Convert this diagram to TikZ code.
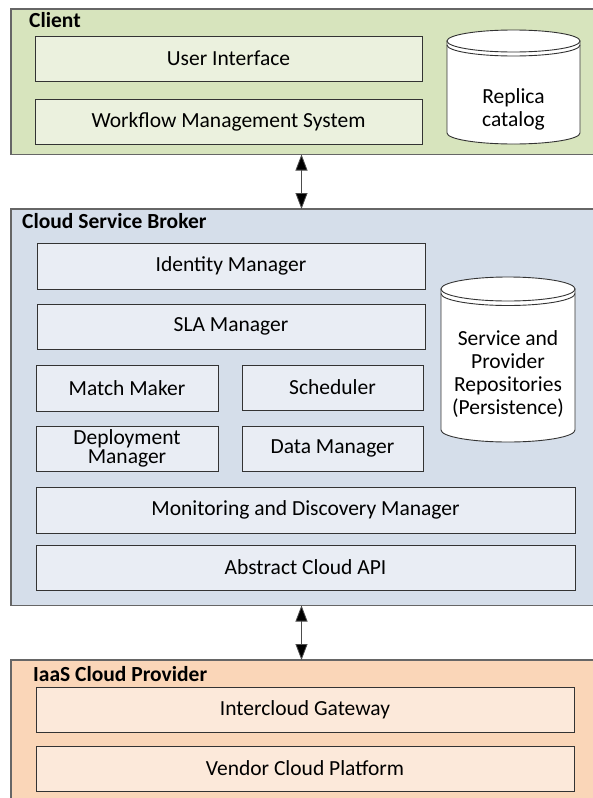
\documentclass[tikz,border=0pt]{standalone}
\usepackage{fontspec}
\setmainfont{Carlito}
\usetikzlibrary{arrows.meta}

\definecolor{clientpanel}{HTML}{D7E4BD}
\definecolor{clientbox}{HTML}{EBF1DE}
\definecolor{brokerpanel}{HTML}{D5DEEA}
\definecolor{brokerbox}{HTML}{E9EDF4}
\definecolor{iaaspanel}{HTML}{FAD6B8}
\definecolor{iaasbox}{HTML}{FCE9DA}
\definecolor{panelline}{HTML}{666666}
\definecolor{boxline}{HTML}{333333}

\begin{document}
\begin{tikzpicture}[x=1pt,y=1pt,
  panel/.style={draw=panelline, line width=1.3pt, inner sep=0pt, outer sep=0pt},
  comp/.style={draw=boxline, line width=0.9pt, inner sep=0pt, outer sep=0pt,
    align=center, font=\fontsize{21.5}{23.5}\selectfont},
  title/.style={anchor=base west, inner sep=0pt, font=\fontsize{21.5}{23.5}\selectfont\bfseries},
  store/.style={draw=boxline, line width=0.9pt, fill=white},
  storetext/.style={align=center, inner sep=0pt, font=\fontsize{21.5}{23}\selectfont},
  conn/.style={draw=black!70, line width=0.8pt,
    {Triangle[width=12pt,length=16pt,fill=black]}-{Triangle[width=12pt,length=16pt,fill=black]}}
]
\useasboundingbox (0,0) rectangle (593,-798);
\clip (0,0) rectangle (593,-798);

% ---------- Client ----------
\node[panel, fill=clientpanel, minimum width=594pt, minimum height=145.5pt] (client) at (308,-81.75) {};
\node[title] (clienttitle) at (29,-27) {Client};
\node[comp, fill=clientbox, minimum width=387pt, minimum height=45pt] (ui) at (228.5,-58.5) {User Interface};
\node[comp, fill=clientbox, minimum width=387pt, minimum height=45pt] (wms) at (228.5,-121.5) {Workflow Management System};
% replica catalog store
\path[store] (447,-41) -- (447,-133) arc[start angle=180, end angle=360, x radius=66.5pt, y radius=11pt] -- (580,-41) -- cycle;
\draw[store] (513.5,-41) ellipse [x radius=66.5pt, y radius=11pt];
\draw[boxline, line width=0.9pt] (447,-45) arc[start angle=180, end angle=360, x radius=66.5pt, y radius=11pt];
\node[storetext] (replica) at (513.5,-109) {Replica\\catalog};

% ---------- Cloud Service Broker ----------
\node[panel, fill=brokerpanel, minimum width=594pt, minimum height=396.5pt] (broker) at (308,-407.25) {};
\node[title] (brokertitle) at (22,-228) {Cloud Service Broker};
\node[comp, fill=brokerbox, minimum width=388pt, minimum height=46pt] (identity) at (231,-266) {Identity Manager};
\node[comp, fill=brokerbox, minimum width=388pt, minimum height=45pt] (sla) at (231,-326.5) {SLA Manager};
\node[comp, fill=brokerbox, minimum width=182pt, minimum height=46pt] (match) at (127,-388) {Match Maker};
\node[comp, fill=brokerbox, minimum width=181pt, minimum height=45pt] (sched) at (332.5,-387.5) {Scheduler};
\node[comp, fill=brokerbox, minimum width=182pt, minimum height=45pt,
      font=\fontsize{21.5}{19.5}\selectfont] (deploy) at (127,-448.5) {Deployment\\Manager};
\node[comp, fill=brokerbox, minimum width=181pt, minimum height=45pt] (data) at (332.5,-448.5) {Data Manager};
\node[comp, fill=brokerbox, minimum width=539pt, minimum height=46pt] (monitor) at (305.5,-510) {Monitoring and Discovery Manager};
\node[comp, fill=brokerbox, minimum width=539pt, minimum height=45pt] (api) at (305.5,-567.5) {Abstract Cloud API};
% service and provider repositories store
\path[store] (441,-289) -- (441,-430) arc[start angle=180, end angle=360, x radius=67pt, y radius=12pt] -- (575,-289) -- cycle;
\draw[store] (508,-289) ellipse [x radius=67pt, y radius=12pt];
\draw[boxline, line width=0.9pt] (441,-293.5) arc[start angle=180, end angle=360, x radius=67pt, y radius=12pt];
\node[storetext] (repos) at (508,-374) {Service and\\Provider\\Repositories\\(Persistence)};

% ---------- IaaS Cloud Provider ----------
\node[panel, fill=iaaspanel, minimum width=594pt, minimum height=160pt] (iaas) at (308,-740) {};
\node[title] (iaastitle) at (33,-681) {IaaS Cloud Provider};
\node[comp, fill=iaasbox, minimum width=538pt, minimum height=45pt] (gateway) at (305,-709.5) {Intercloud Gateway};
\node[comp, fill=iaasbox, minimum width=538pt, minimum height=45pt] (vendor) at (305,-768.5) {Vendor Cloud Platform};

% ---------- connectors ----------
\coordinate (ax) at (301.5,0);
\draw[conn] (client.south -| ax) -- (broker.north -| ax);
\draw[conn] (broker.south -| ax) -- (iaas.north -| ax);
\end{tikzpicture}
\end{document}
